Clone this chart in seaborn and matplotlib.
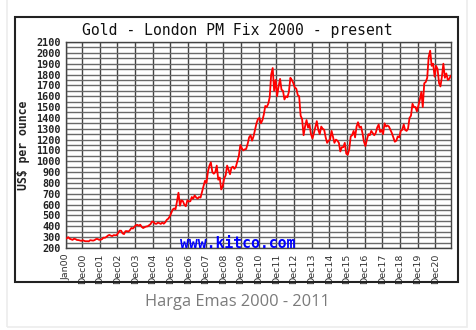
import matplotlib
matplotlib.use("Agg")
import matplotlib.pyplot as plt
import seaborn as sns
import pandas as pd
import numpy as np
from matplotlib.patches import Rectangle

# Monthly gold price (USD/oz), Jan 2000 .. Oct 2021
p2000 = [288, 300, 286, 280, 275, 285, 282, 274, 273, 270, 266, 272]
p2001 = [265, 262, 263, 261, 272, 270, 268, 273, 283, 283, 276, 276]
p2002 = [282, 296, 294, 302, 314, 321, 314, 310, 319, 317, 319, 340]
p2003 = [360, 359, 335, 328, 355, 356, 351, 365, 385, 379, 395, 410]
p2004 = [414, 405, 415, 395, 384, 392, 398, 400, 410, 420, 445, 440]
p2005 = [424, 423, 434, 429, 422, 435, 424, 437, 460, 470, 490, 520]
p2006 = [555, 565, 557, 630, 710, 590, 640, 632, 598, 585, 640, 629]
p2007 = [631, 670, 655, 685, 667, 655, 670, 665, 720, 770, 820, 800]
p2008 = [905, 960, 990, 900, 885, 900, 960, 830, 850, 740, 770, 840]
p2009 = [870, 960, 924, 880, 940, 950, 930, 950, 1000, 1050, 1150, 1120]
p2010 = [1100, 1110, 1113, 1160, 1220, 1240, 1190, 1230, 1290, 1350, 1390, 1400]
p2011 = [1350, 1380, 1430, 1510, 1500, 1530, 1590, 1800, 1860, 1650, 1750, 1600]
p2012 = [1690, 1760, 1660, 1650, 1570, 1600, 1590, 1640, 1770, 1750, 1720, 1680]
p2013 = [1670, 1610, 1600, 1420, 1390, 1240, 1320, 1380, 1310, 1340, 1250, 1210]
p2014 = [1260, 1320, 1370, 1290, 1250, 1320, 1300, 1290, 1220, 1170, 1190, 1200]
p2015 = [1280, 1220, 1170, 1200, 1190, 1170, 1090, 1130, 1130, 1170, 1070, 1060]
p2016 = [1110, 1230, 1240, 1280, 1220, 1320, 1360, 1310, 1320, 1260, 1180, 1140]
p2017 = [1200, 1250, 1240, 1280, 1260, 1240, 1260, 1310, 1340, 1270, 1290, 1250]
p2018 = [1350, 1320, 1330, 1320, 1290, 1260, 1220, 1180, 1190, 1230, 1220, 1280]
p2019 = [1290, 1340, 1290, 1280, 1300, 1400, 1420, 1530, 1500, 1500, 1460, 1510]
p2020 = [1570, 1640, 1500, 1720, 1730, 1770, 1960, 2020, 1880, 1900, 1780, 1880]
p2021 = [1850, 1720, 1690, 1780, 1900, 1770, 1810, 1750, 1760, 1790]

prices = (p2000 + p2001 + p2002 + p2003 + p2004 + p2005 + p2006 + p2007 + p2008 +
          p2009 + p2010 + p2011 + p2012 + p2013 + p2014 + p2015 + p2016 + p2017 +
          p2018 + p2019 + p2020 + p2021)
dates = pd.date_range("2000-01-01", periods=len(prices), freq="MS") + pd.Timedelta(days=14)

tick_labels = ["Jan00"] + ["Dec%02d" % y for y in range(0, 21)]
tick_dates = [pd.Timestamp("2000-01-01")] + [pd.Timestamp(2000 + y, 12, 1) for y in range(0, 21)]
ytick_values = list(range(200, 2101, 100))

df = pd.DataFrame({"date": dates, "price": prices})

sns.set_theme(style="white")
plt.rcParams['font.family'] = ['DejaVu Sans']

fig = plt.figure(figsize=(4.77, 3.30), dpi=100)
fig.patch.set_facecolor("white")

# card border and chart border
fig.patches.append(Rectangle((7/477, 3/330), 460/477, 1.2, transform=fig.transFigure,
                             fill=False, edgecolor="#ececec", lw=1.2, zorder=0))
fig.patches.append(Rectangle((15/477, 1-282/330), 443/477, 265/330, transform=fig.transFigure,
                             fill=False, edgecolor="#222222", lw=1.5, zorder=0))

ax = fig.add_axes([66/477, 1-248/330, 385/477, 206/330])
ax.set_facecolor("white")

sns.lineplot(data=df, x="date", y="price", ax=ax, color="#ff0000", lw=1.3, zorder=5)

ax.set_xlim(pd.Timestamp("2000-01-01"), pd.Timestamp("2021-10-20"))
ax.set_ylim(200, 2100)
ax.set_yticks(ytick_values)
ax.set_yticks(np.arange(250, 2100, 100), minor=True)
ax.set_yticklabels([str(v) for v in ytick_values],
                   family="DejaVu Sans Mono", fontweight="bold", fontsize=7.3, color="#222222")
ax.set_xticks(tick_dates)
ax.set_xticklabels(tick_labels, rotation=90, fontsize=6.8, color="#333333")
ax.tick_params(axis="both", which="both", length=0)
ax.tick_params(axis="y", pad=4)
ax.tick_params(axis="x", pad=4)

ax.grid(True, axis="y", which="both", color="#6a6a6a", lw=1.0)
ax.grid(True, axis="x", which="major", color="#444444", lw=1.0)
ax.set_axisbelow(True)
for s in ax.spines.values():
    s.set_color("#444444")
    s.set_linewidth(1.0)
ax.set_xlabel("")
ax.set_ylabel("")

fig.text(24/477, 1-145/330, "US$ per ounce", rotation=90, ha="center", va="center",
         family="DejaVu Sans Mono", fontweight="bold", fontsize=8.3, color="#222222")
fig.text(237/477, 1-30/330, "Gold - London PM Fix 2000 - present", ha="center", va="center",
         family="DejaVu Sans Mono", fontsize=10.6, color="#111111")
fig.text(237.5/477, 1-243/330, "www.kitco.com", ha="center", va="center",
         family="DejaVu Sans Mono", fontweight="bold", fontsize=10.6, color="#0000ff", zorder=10)
fig.text(237/477, 1-302/330, "Harga Emas 2000 - 2011", ha="center", va="center",
         family="Open Sans", fontsize=11.8, color="#7a7a7a")

fig.savefig("out.png", dpi=100)
